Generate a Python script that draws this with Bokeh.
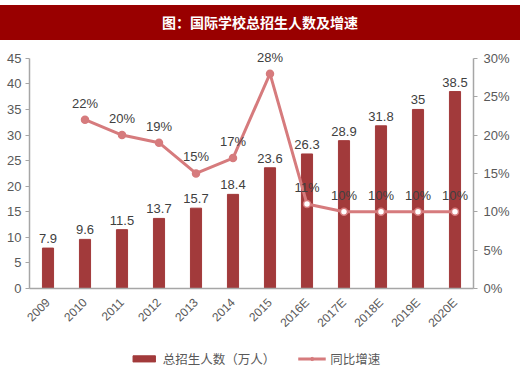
from bokeh.plotting import figure
from bokeh.models import (ColumnDataSource, Range1d, LinearAxis, FactorRange, Div,
                          NumeralTickFormatter, Legend, LegendItem, SingleIntervalTicker)
from bokeh.layouts import column
from bokeh.core.properties import value
from bokeh.embed import file_html
from bokeh.resources import INLINE

years = ["2009", "2010", "2011", "2012", "2013", "2014", "2015",
         "2016E", "2017E", "2018E", "2019E", "2020E"]
students = [7.9, 9.6, 11.5, 13.7, 15.7, 18.4, 23.6, 26.3, 28.9, 31.8, 35, 38.5]
growth_years = ["2010", "2011", "2012", "2013", "2014", "2015",
                "2016E", "2017E", "2018E", "2019E", "2020E"]
growth = [0.22, 0.20, 0.19, 0.15, 0.17, 0.28, 0.11, 0.10, 0.10, 0.10, 0.10]
growth_labels = ["22%", "20%", "19%", "15%", "17%", "28%", "11%", "10%", "10%", "10%", "10%"]
estimated = [False, False, False, False, False, False, True, True, True, True, True]

title_text = "图：国际学校总招生人数及增速"
bar_name = "总招生人数（万人）"
line_name = "同比增速"

BAR = "#A23A3B"
LINE = "#D67B7D"
AX = "#A6A6A6"
TXT = "#595959"
LAB = "#404040"
NUMF = "Liberation Sans"
CJK = "Noto Sans CJK SC"

bar_src = ColumnDataSource(dict(x=years, y=students, lab=[f"{v:g}" for v in students]))
fills = ["white" if e else LINE for e in estimated]
line_src = ColumnDataSource(dict(x=growth_years, y=growth, lab=growth_labels, fill=fills))

# ---------------- title band ----------------
title = Div(text=f'<div style="width:520px;height:35px;margin-top:5px;line-height:35px;'
                 f'background:#990000;color:white;text-align:center;font-family:\'{CJK}\';'
                 f'font-weight:bold;font-size:14px;">{title_text}</div>',
            width=520, height=40, margin=0)

# ---------------- main chart ----------------
p = figure(x_range=FactorRange(*years, range_padding=0), y_range=Range1d(0, 47.5),
           frame_width=444, frame_height=243, output_backend="svg", toolbar_location=None,
           min_border_top=5, min_border_left=29, min_border_right=5, min_border_bottom=57,
           margin=0)
p.extra_y_ranges = {"pct": Range1d(0, 0.30 * 47.5 / 45)}
p.outline_line_color = None
p.xgrid.grid_line_color = None
p.ygrid.grid_line_color = None

la = p.yaxis[0]
la.ticker = SingleIntervalTicker(interval=5)
la.bounds = (0, 45)
la.axis_line_color = AX
la.axis_line_width = 1.5
la.major_tick_line_color = AX
la.major_tick_out = 4
la.major_tick_in = 0
la.minor_tick_line_color = None
la.major_label_text_font = NUMF
la.major_label_text_font_size = "13px"
la.major_label_text_color = TXT
la.major_label_standoff = 4

ra = LinearAxis(y_range_name="pct", ticker=SingleIntervalTicker(interval=0.05),
                formatter=NumeralTickFormatter(format="0%"), bounds=(0, 0.30001))
ra.axis_line_color = AX
ra.axis_line_width = 1.5
ra.major_tick_line_color = AX
ra.major_tick_out = 4
ra.major_tick_in = 0
ra.minor_tick_line_color = None
ra.major_label_text_font = NUMF
ra.major_label_text_font_size = "13px"
ra.major_label_text_color = TXT
ra.major_label_standoff = 6
p.add_layout(ra, "right")

xa = p.xaxis[0]
xa.axis_line_color = AX
xa.axis_line_width = 1.5
xa.major_tick_line_color = None
xa.minor_tick_line_color = None
xa.major_label_orientation = 0.785
xa.major_label_text_font = NUMF
xa.major_label_text_font_size = "12px"
xa.major_label_text_color = TXT
xa.major_label_standoff = 6

p.vbar(x="x", top="y", width=0.3, source=bar_src, fill_color=BAR, line_color=BAR)
p.text(x="x", y="y", text="lab", source=bar_src, y_offset=-5,
       text_align="center", text_baseline="bottom", text_font=value(NUMF),
       text_font_size="13px", text_color=LAB)

p.line(x="x", y="y", source=line_src, y_range_name="pct", line_color=LINE, line_width=3)
p.scatter(x="x", y="y", source=line_src, y_range_name="pct", size=7,
          fill_color="fill", line_color=LINE, line_width=1.5)
p.text(x="x", y="y", text="lab", source=line_src, y_range_name="pct", y_offset=-9,
       text_align="center", text_baseline="bottom", text_font=value(NUMF),
       text_font_size="13px", text_color=LAB)

# ---------------- legend strip ----------------
# same data, but a y-range that shows none of it: only the legend is visible
lg = figure(width=520, height=26, x_range=FactorRange(*years), y_range=Range1d(100, 101),
            output_backend="svg", toolbar_location=None, min_border=0, margin=0)
lg.axis.visible = False
lg.grid.visible = False
lg.outline_line_color = None
r_bar = lg.vbar(x="x", top="y", width=0.3, source=bar_src, fill_color=BAR, line_color=BAR)
r_ln = lg.line(x="x", y="y", source=line_src, line_color=LINE, line_width=3)
r_pt = lg.scatter(x="x", y="y", source=line_src, size=6, fill_color=LINE, line_color=LINE)
legend = Legend(items=[LegendItem(label=bar_name, renderers=[r_bar]),
                       LegendItem(label=line_name, renderers=[r_ln, r_pt])],
                orientation="horizontal", location="center",
                label_text_font=CJK, label_text_font_size="12.5px", label_text_color=TXT,
                glyph_width=28, glyph_height=8, spacing=22, label_standoff=5,
                padding=0, margin=0, border_line_color=None, background_fill_alpha=0)
lg.add_layout(legend, "center")

layout = column(title, p, lg, spacing=0)
open("out.html", "w").write(file_html(layout, INLINE))
